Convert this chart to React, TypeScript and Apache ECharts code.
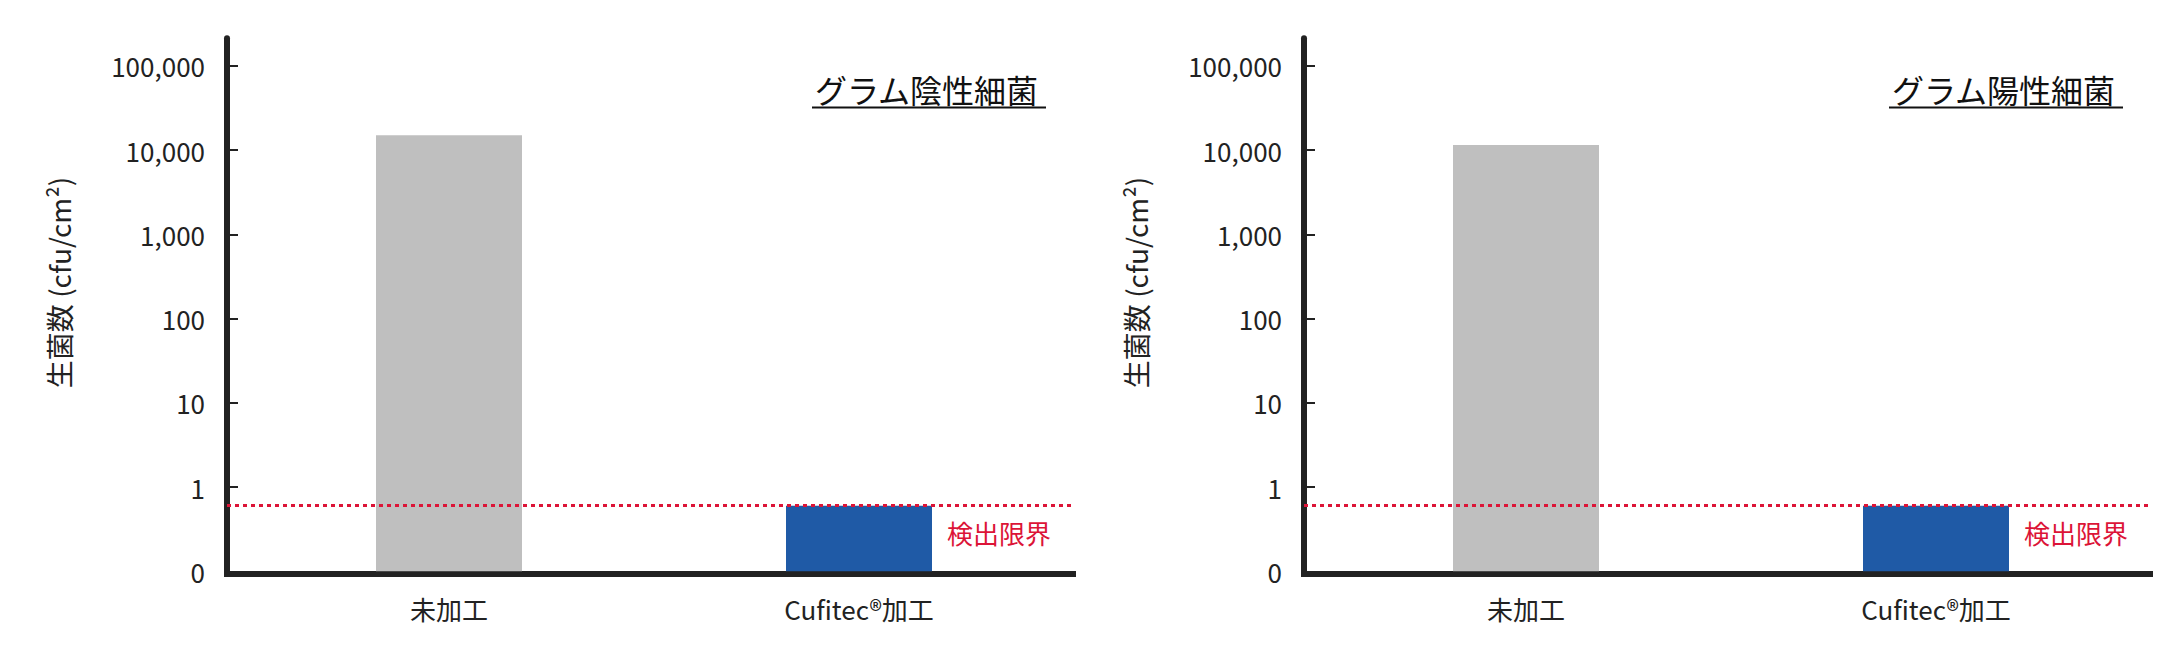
import React, { useEffect, useRef } from 'react';
import * as echarts from 'echarts';

const categories = ['未加工', 'Cufitec®加工'];
const gramNegative = [15000, 0.6];
const gramPositive = [11500, 0.6];
const panelData = [gramNegative, gramPositive];
const panelTitles = ['グラム陰性細菌', 'グラム陽性細菌'];
const detectionLimit = 0.6;
const tickValues = [0.1, 1, 10, 100, 1000, 10000, 100000];
const barColors = ['#bfbfbf', '#1f5aa6'];
const yAxisName = '生菌数 (cfu/cm²)';
const limitLabel = '検出限界';

const FONT = '"Noto Sans CJK JP", "Noto Sans", sans-serif';
const AXIS_COLOR = '#222222';
const RED = '#dc1437';
const Y_MIN = 0.1;
const Y_MAX = 212000;
const PANEL_DX = [0, 1077];

const formatTick = (v: number) => (v < 1 ? '0' : v.toLocaleString('en-US'));

const buildOption = () => {
  const grid: any[] = [];
  const xAxis: any[] = [];
  const yAxis: any[] = [];
  const series: any[] = [];
  const title: any[] = [];
  const graphic: any[] = [];

  PANEL_DX.forEach((dx, p) => {
    // frame grid: axis lines + detection limit line
    grid.push({ left: 227 + dx, top: 38.3, width: 846, height: 533, outerBoundsMode: 'none' });
    // bar grid: the two categories
    grid.push({ left: 244 + dx, top: 38.3, width: 820, height: 533, outerBoundsMode: 'none' });

    xAxis.push({
      gridIndex: 2 * p,
      type: 'value',
      min: 0,
      max: 1,
      offset: 2,
      axisLine: { show: true, lineStyle: { color: AXIS_COLOR, width: 6, cap: 'square' } },
      axisTick: { show: false },
      axisLabel: { show: false },
      splitLine: { show: false },
    });
    xAxis.push({
      gridIndex: 2 * p + 1,
      type: 'category',
      data: categories,
      axisLine: { show: false },
      axisTick: { show: false },
      axisLabel: { margin: 24, fontSize: 26, color: '#222', fontFamily: FONT },
    });

    yAxis.push({
      gridIndex: 2 * p,
      type: 'log',
      logBase: 10,
      min: Y_MIN,
      max: Y_MAX,
      axisLine: { show: true, lineStyle: { color: AXIS_COLOR, width: 6 } },
      axisTick: {
        show: true,
        inside: true,
        length: 11,
        lineStyle: { color: AXIS_COLOR, width: 2 },
        customValues: tickValues,
      },
      axisLabel: {
        customValues: tickValues,
        formatter: formatTick,
        margin: 22,
        fontSize: 26,
        color: '#222',
        fontFamily: FONT,
      },
      splitLine: { show: false },
    });
    yAxis.push({
      gridIndex: 2 * p + 1,
      type: 'log',
      logBase: 10,
      min: Y_MIN,
      max: Y_MAX,
      startValue: Y_MIN,
      show: false,
      splitLine: { show: false },
    });

    series.push({
      type: 'bar',
      xAxisIndex: 2 * p + 1,
      yAxisIndex: 2 * p + 1,
      barWidth: 146,
      data: panelData[p].map((v, i) => ({ value: v, itemStyle: { color: barColors[i] } })),
    });
    series.push({
      type: 'line',
      xAxisIndex: 2 * p,
      yAxisIndex: 2 * p,
      data: [],
      markLine: {
        silent: true,
        symbol: 'none',
        lineStyle: { color: RED, type: [4, 4], width: 3 },
        label: {
          position: 'insideEndBottom',
          distance: [22, 14],
          formatter: limitLabel,
          color: RED,
          fontSize: 26,
          fontFamily: FONT,
        },
        data: [{ yAxis: detectionLimit }],
      },
    });

    title.push({
      text: panelTitles[p],
      left: 815 + dx,
      top: 73,
      padding: 0,
      textStyle: { fontSize: 32, fontWeight: 'normal', color: '#111', fontFamily: FONT, lineHeight: 32 },
    });

    graphic.push({
      type: 'line',
      shape: { x1: 812 + dx, y1: 107.5, x2: 1046 + dx, y2: 107.5 },
      style: { stroke: '#111', lineWidth: 2 },
    });
    graphic.push({
      type: 'text',
      x: 59 + dx,
      y: 282.5,
      rotation: Math.PI / 2,
      style: {
        text: yAxisName,
        fontSize: 28,
        fontFamily: FONT,
        fill: '#222',
        align: 'center',
        verticalAlign: 'middle',
      },
    });
  });

  return {
    animation: false,
    backgroundColor: '#ffffff',
    textStyle: { fontFamily: FONT },
    title,
    grid,
    xAxis,
    yAxis,
    series,
    graphic,
  };
};

const App: React.FC = () => {
  const chartRef = useRef<HTMLDivElement>(null);

  useEffect(() => {
    if (!chartRef.current) return;
    const chart = echarts.init(chartRef.current, null, { renderer: 'svg' });
    chart.setOption(buildOption() as any);
    return () => chart.dispose();
  }, []);

  return (
    <div
      ref={chartRef}
      style={{ position: 'absolute', left: 0, top: 0, width: '2168px', height: '657px', background: '#fff' }}
    />
  );
};

export default App;
